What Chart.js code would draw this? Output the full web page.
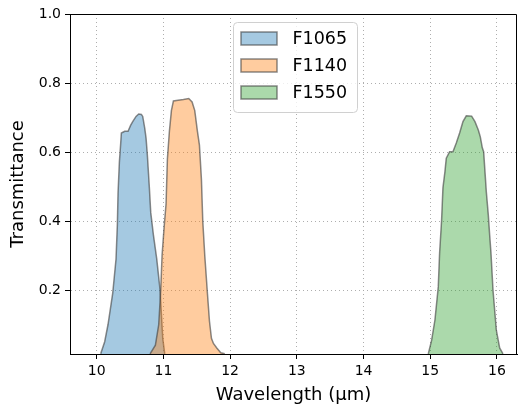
<!DOCTYPE html>
<html>
<head>
<meta charset="utf-8">
<script src="https://cdn.jsdelivr.net/npm/chart.js@4/dist/chart.umd.min.js"></script>
<style>
  body { margin: 0; background: #fff; }
  #wrap { width: 518px; height: 406px; }
</style>
</head>
<body>
<div id="wrap"><canvas id="filtersChart" width="518" height="406"></canvas></div>
<script>
const filterNames = ['F1065', 'F1140', 'F1550'];
const xTicks = [10, 11, 12, 13, 14, 15, 16];
const yTicks = [0.2, 0.4, 0.6, 0.8, 1.0];

const f1065Wave = [10.06, 10.12, 10.17, 10.24, 10.29, 10.31, 10.32, 10.34, 10.36, 10.37, 10.42, 10.47, 10.51, 10.54, 10.59, 10.63, 10.67, 10.69, 10.72, 10.74, 10.76, 10.79, 10.81, 10.85, 10.90, 10.95, 10.97, 10.99, 11.02];
const f1065Trans = [0.015, 0.05, 0.10, 0.19, 0.29, 0.39, 0.48, 0.57, 0.625, 0.655, 0.66, 0.66, 0.678, 0.688, 0.703, 0.71, 0.709, 0.703, 0.669, 0.64, 0.59, 0.495, 0.425, 0.36, 0.29, 0.20, 0.13, 0.06, 0.015];

const f1140Wave = [10.80, 10.88, 10.93, 10.96, 10.98, 11.01, 11.04, 11.06, 11.09, 11.12, 11.15, 11.22, 11.30, 11.38, 11.43, 11.47, 11.51, 11.54, 11.57, 11.59, 11.62, 11.66, 11.69, 11.72, 11.75, 11.80, 11.86, 11.92];
const f1140Trans = [0.015, 0.04, 0.10, 0.20, 0.30, 0.38, 0.45, 0.58, 0.66, 0.72, 0.748, 0.75, 0.752, 0.755, 0.745, 0.72, 0.66, 0.62, 0.52, 0.40, 0.30, 0.19, 0.11, 0.06, 0.045, 0.032, 0.018, 0.015];

const f1550Wave = [14.97, 15.02, 15.07, 15.12, 15.14, 15.17, 15.19, 15.22, 15.24, 15.29, 15.34, 15.39, 15.44, 15.49, 15.54, 15.62, 15.67, 15.72, 15.75, 15.78, 15.80, 15.82, 15.84, 15.87, 15.89, 15.91, 15.94, 15.99, 16.04, 16.09];
const f1550Trans = [0.015, 0.054, 0.113, 0.209, 0.307, 0.403, 0.496, 0.543, 0.582, 0.601, 0.601, 0.626, 0.655, 0.688, 0.705, 0.704, 0.688, 0.664, 0.644, 0.612, 0.601, 0.543, 0.485, 0.417, 0.36, 0.307, 0.20, 0.084, 0.032, 0.015];

const fillColors = ['rgba(31,119,180,0.4)', 'rgba(255,127,14,0.4)', 'rgba(44,160,44,0.4)'];
const edgeColor = 'rgba(60,60,60,0.6)';
const font = 'DejaVu Sans';

function toPoints(wave, trans) {
  return wave.map((w, i) => ({ x: w, y: trans[i] }));
}

const curves = [
  toPoints(f1065Wave, f1065Trans),
  toPoints(f1140Wave, f1140Trans),
  toPoints(f1550Wave, f1550Trans)
];

// top and right spines like matplotlib
const frameBox = {
  id: 'frameBox',
  afterDraw(chart) {
    const { ctx, chartArea: a } = chart;
    ctx.save();
    ctx.strokeStyle = '#000';
    ctx.lineWidth = 1;
    ctx.beginPath();
    ctx.moveTo(a.left, a.top + 0.5);
    ctx.lineTo(a.right - 0.5, a.top + 0.5);
    ctx.lineTo(a.right - 0.5, a.bottom);
    ctx.stroke();
    ctx.restore();
  }
};

// legend box inside the plot, upper centre
const innerLegend = {
  id: 'innerLegend',
  afterDraw(chart) {
    const { ctx, chartArea: a } = chart;
    const w = 124, h = 90;
    const left = Math.round((a.left + a.right) / 2 - w / 2 + 1) + 0.5;
    const top = a.top + 8.5;
    ctx.save();
    ctx.beginPath();
    ctx.roundRect(left, top, w, h, 4);
    ctx.fillStyle = 'rgba(255,255,255,0.8)';
    ctx.fill();
    ctx.strokeStyle = '#d0d0d0';
    ctx.lineWidth = 1;
    ctx.stroke();
    ctx.font = '17.5px "' + font + '"';
    ctx.textBaseline = 'middle';
    chart.data.datasets.forEach((ds, i) => {
      const cy = top + 16 + i * 27;
      ctx.fillStyle = '#fff';
      ctx.fillRect(left + 7.5, cy - 6.5, 36, 13);
      ctx.fillStyle = ds.backgroundColor;
      ctx.fillRect(left + 7.5, cy - 6.5, 36, 13);
      ctx.strokeStyle = edgeColor;
      ctx.lineWidth = 1.5;
      ctx.strokeRect(left + 7.5, cy - 6.5, 36, 13);
      ctx.fillStyle = '#000';
      ctx.fillText(ds.label, left + 59, cy + 1);
    });
    ctx.restore();
  }
};

new Chart(document.getElementById('filtersChart'), {
  type: 'line',
  data: {
    datasets: filterNames.map((name, i) => ({
      label: name,
      data: curves[i],
      backgroundColor: fillColors[i],
      borderColor: edgeColor,
      borderWidth: 1.5,
      fill: 'start',
      tension: 0,
      pointRadius: 0,
      order: 3 - i
    }))
  },
  options: {
    responsive: false,
    animation: false,
    layout: {
      padding: { top: 14, right: 1, left: 0, bottom: 0 }
    },
    plugins: {
      legend: { display: false },
      tooltip: { enabled: false }
    },
    scales: {
      x: {
        type: 'linear',
        min: 9.6,
        max: 16.3,
        afterBuildTicks: (s) => { s.ticks = xTicks.map(v => ({ value: v })); },
        afterFit: (s) => { s.height = 52; },
        ticks: {
          color: '#000',
          padding: 4,
          maxRotation: 0,
          font: { family: font, size: 14 },
          callback: (v) => String(v)
        },
        grid: {
          color: 'rgba(170,170,170,0.95)',
          lineWidth: 1,
          tickLength: 5,
          tickColor: '#000'
        },
        border: { color: '#000', width: 1, dash: [1, 3] },
        title: {
          display: true,
          text: 'Wavelength (\u03bcm)',
          color: '#000',
          font: { family: font, size: 18 },
          padding: { top: 3, bottom: 0 }
        }
      },
      y: {
        type: 'linear',
        min: 0.0145,
        max: 1.0,
        afterBuildTicks: (s) => { s.ticks = yTicks.map(v => ({ value: v })); },
        afterFit: (s) => { s.width = 70; },
        ticks: {
          color: '#000',
          padding: 4,
          font: { family: font, size: 14 },
          callback: (v) => v.toFixed(1)
        },
        grid: {
          color: 'rgba(170,170,170,0.95)',
          lineWidth: 1,
          tickLength: 5,
          tickColor: '#000'
        },
        border: { color: '#000', width: 1, dash: [1, 3] },
        title: {
          display: true,
          text: 'Transmittance',
          color: '#000',
          font: { family: font, size: 18 },
          padding: { top: 8, bottom: 0 }
        }
      }
    }
  },
  plugins: [frameBox, innerLegend]
});
</script>
</body>
</html>
